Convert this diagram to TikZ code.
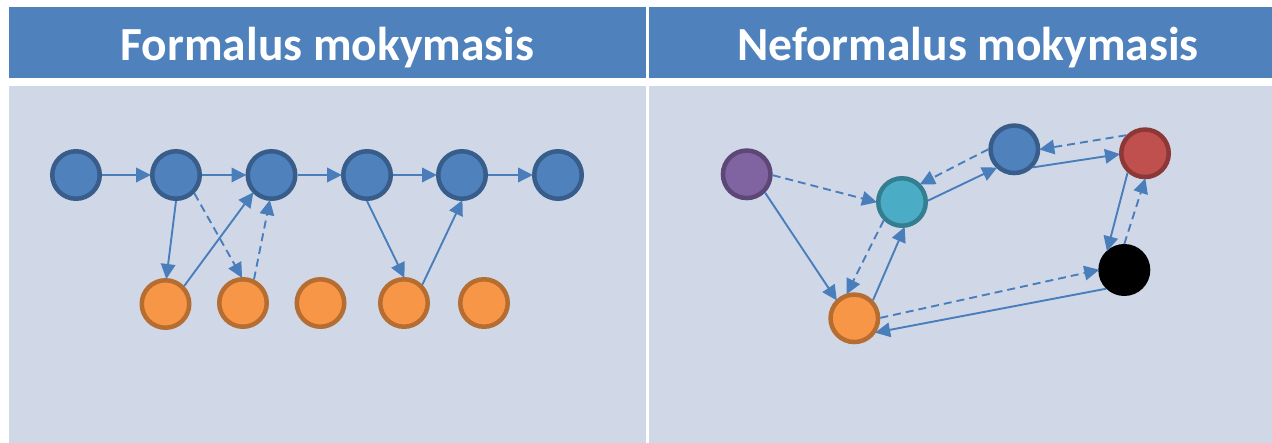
\documentclass[tikz,border=0pt]{standalone}
\usepackage{fontspec}
\setmainfont{Carlito}
\usetikzlibrary{arrows.meta}
\definecolor{hdr}{HTML}{4F81BD}
\definecolor{bdy}{HTML}{D0D8E8}
\definecolor{bfill}{HTML}{4F81BD}
\definecolor{bdraw}{HTML}{385D8A}
\definecolor{ofill}{HTML}{F79646}
\definecolor{odraw}{HTML}{B66D31}
\definecolor{pfill}{HTML}{8064A2}
\definecolor{pdraw}{HTML}{5C4776}
\definecolor{tfill}{HTML}{4BACC6}
\definecolor{tdraw}{HTML}{357D91}
\definecolor{rfill}{HTML}{C0504D}
\definecolor{rdraw}{HTML}{8C3836}
\definecolor{arr}{HTML}{4A7EBB}
\tikzset{
  x=1pt, y=-1pt,
  circ/.style={circle, minimum size=47.5pt, inner sep=0pt, line width=4.5pt},
  bnode/.style={circ, fill=bfill, draw=bdraw},
  onode/.style={circ, fill=ofill, draw=odraw},
  pnode/.style={circ, fill=pfill, draw=pdraw},
  tnode/.style={circ, fill=tfill, draw=tdraw},
  rnode/.style={circ, fill=rfill, draw=rdraw},
  knode/.style={circ, fill=black, draw=black},
  con/.style={draw=arr, line width=1.9pt, -{Triangle[length=15pt,width=14.5pt]}, shorten >=-1pt},
  dcon/.style={con, dash pattern=on 8pt off 5pt},
  title/.style={text=white, font=\bfseries\fontsize{47.5}{52}\selectfont, anchor=base}
}
\begin{document}
\begin{tikzpicture}
\useasboundingbox[fill=white] (0,0) rectangle (1272,443);
\fill[hdr] (9,7) rectangle (646,78);
\fill[hdr] (649,7) rectangle (1272,78);
\fill[bdy] (9,86) rectangle (646,443);
\fill[bdy] (649,86) rectangle (1272,443);
\node[title] (t1) at (327.5,61) {Formalus mokymasis};
\node[title] (t2) at (968,61) {Neformalus mokymasis};

% left panel
\node[bnode] (b0) at (76,175) {};
\node[bnode] (b1) at (176,175) {};
\node[bnode] (b2) at (271.5,175) {};
\node[bnode] (b3) at (367,175) {};
\node[bnode] (b4) at (462,175) {};
\node[bnode] (b5) at (558,175) {};
\node[onode] (o0) at (165.5,304) {};
\node[onode] (o1) at (243,303) {};
\node[onode] (o2) at (320.5,303) {};
\node[onode] (o3) at (404,303) {};
\node[onode] (o4) at (484,303) {};

\draw[con] (b0) -- (b1);
\draw[con] (b1) -- (b2);
\draw[con] (b2) -- (b3);
\draw[con] (b3) -- (b4);
\draw[con] (b4) -- (b5);
\draw[con] (b1.270) -- (o0.88);
\draw[con] (o0.44) -- (b2.224);
\draw[dcon] (b1.315) -- (o1.93);
\draw[dcon] (o1.65) -- (b2.266);
\draw[con] (b3.270) -- (o3.90);
\draw[con] (o3.45) -- (b4.270);

% right panel
\node[pnode] (p) at (746.7,174.3) {};
\node[tnode] (t) at (902,202) {};
\node[bnode] (bb) at (1014.3,149.3) {};
\node[rnode] (r) at (1145,153.3) {};
\node[knode] (k) at (1124.3,270) {};
\node[onode] (o) at (854.3,318.3) {};

\draw[dcon] (p.-2) -- (t.180);
\draw[con] (p.-45) -- (o.134);
\draw[dcon] (t.225) -- (o.106);
\draw[con] (o.44) -- (t.275);
\draw[con] (t.3) -- (bb.226);
\draw[dcon] (bb.180) -- (t.44);
\draw[con] (bb.-44) -- (r.182);
\draw[dcon] (r.136) -- (bb.0);
\draw[con] (r.228) -- (k.131);
\draw[dcon] (k.90) -- (r.270);
\draw[dcon] (o.1) -- (k.180);
\draw[con] (k.226) -- (o.-33);
\end{tikzpicture}
\end{document}
